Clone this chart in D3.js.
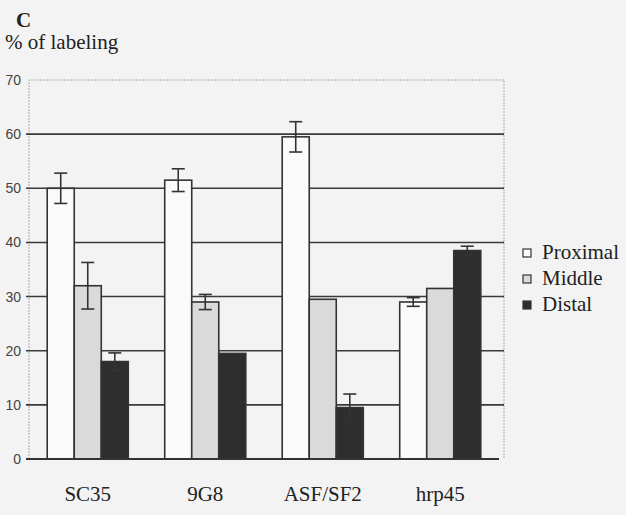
<!DOCTYPE html>
<html>
<head>
<meta charset="utf-8">
<script src="https://cdn.jsdelivr.net/npm/d3@7"></script>
<style>
  html, body { margin: 0; padding: 0; background: #f3f3f3; }
  svg { display: block; }
  .serif { font-family: "Liberation Serif", "DejaVu Serif", serif; }
  .sans { font-family: "Liberation Sans", Arial, sans-serif; }
</style>
</head>
<body>
<div id="chart"></div>
<script>
// categories and series
const categories = ["SC35", "9G8", "ASF/SF2", "hrp45"];
const seriesNames = ["Proximal", "Middle", "Distal"];
const proximal = [50, 51.5, 59.5, 29];
const middle   = [32, 29, 29.5, 31.5];
const distal   = [18, 19.5, 9.5, 38.5];
// error bar half-widths (null = no error bar)
const proximalErr = [2.8, 2.1, 2.8, 0.8];
const middleErr   = [4.3, 1.4, null, null];
const distalErr   = [1.6, null, 2.5, 0.8];
const yTicks = [0, 10, 20, 30, 40, 50, 60, 70];

const W = 626, H = 515;
const M = { left: 29, right: 499, top: 80, bottom: 459 };
const fills = ["#fafafa", "#dadada", "#2e2e2e"];
const ink = "#333";

const rows = categories.map((c, i) => ({
  cat: c,
  vals: [
    { s: 0, v: proximal[i], e: proximalErr[i] },
    { s: 1, v: middle[i],   e: middleErr[i] },
    { s: 2, v: distal[i],   e: distalErr[i] }
  ]
}));

const svg = d3.select("#chart").append("svg")
  .attr("width", W).attr("height", H);

const x0 = d3.scaleBand().domain(categories)
  .range([M.left, M.right]).paddingInner(0.31).paddingOuter(0.155);
const x1 = d3.scaleBand().domain([0, 1, 2]).range([0, x0.bandwidth()]);
const y = d3.scaleLinear().domain([0, 70]).range([M.bottom, M.top]);

// cornice leggera tratteggiata come nella scansione
svg.append("path")
  .attr("d", `M${M.left},${M.bottom}V${M.top}H${M.right + 5}V${M.bottom}`)
  .attr("fill", "none").attr("stroke", "#aaa")
  .attr("stroke-width", 1).attr("stroke-dasharray", "2,1");

// gridlines
svg.append("g").selectAll("line")
  .data(yTicks.filter(t => t > 0 && t < 70))
  .join("line")
  .attr("x1", M.left - 3).attr("x2", M.right + 5)
  .attr("y1", d => y(d)).attr("y2", d => y(d))
  .attr("stroke", "#3a3a3a").attr("stroke-width", 1.6);

// y tick labels
svg.append("g").selectAll("text")
  .data(yTicks)
  .join("text")
  .attr("class", "sans")
  .attr("x", M.left - 8).attr("y", d => y(d) + 5)
  .attr("text-anchor", "end")
  .attr("font-size", 14).attr("fill", "#444")
  .text(d => d);

// bars
const groups = svg.append("g").selectAll("g")
  .data(rows)
  .join("g")
  .attr("transform", d => `translate(${x0(d.cat)},0)`);

groups.selectAll("rect")
  .data(d => d.vals)
  .join("rect")
  .attr("x", d => x1(d.s))
  .attr("y", d => y(d.v))
  .attr("width", x1.bandwidth())
  .attr("height", d => y(0) - y(d.v))
  .attr("fill", d => fills[d.s])
  .attr("stroke", ink).attr("stroke-width", 1.6);

// error bars
const eb = groups.selectAll("g.err")
  .data(d => d.vals.filter(v => v.e != null))
  .join("g").attr("class", "err")
  .attr("stroke", ink).attr("stroke-width", 1.6);

const cx = d => x1(d.s) + x1.bandwidth() / 2;
eb.append("line")
  .attr("x1", cx).attr("x2", cx)
  .attr("y1", d => y(d.v + d.e)).attr("y2", d => y(d.v - d.e));
eb.append("line")
  .attr("x1", d => cx(d) - 6.5).attr("x2", d => cx(d) + 6.5)
  .attr("y1", d => y(d.v + d.e)).attr("y2", d => y(d.v + d.e));
eb.append("line")
  .attr("x1", d => cx(d) - 6.5).attr("x2", d => cx(d) + 6.5)
  .attr("y1", d => y(d.v - d.e)).attr("y2", d => y(d.v - d.e));

// baseline
svg.append("line")
  .attr("x1", M.left - 3).attr("x2", M.right)
  .attr("y1", y(0)).attr("y2", y(0))
  .attr("stroke", ink).attr("stroke-width", 1.8);

// category labels
svg.append("g").selectAll("text")
  .data(categories)
  .join("text")
  .attr("class", "serif")
  .attr("x", d => x0(d) + x0.bandwidth() / 2)
  .attr("y", 501)
  .attr("text-anchor", "middle")
  .attr("font-size", 21).attr("fill", "#222")
  .text(d => d);

// panel letter and y title
svg.append("text")
  .attr("class", "serif")
  .attr("x", 16).attr("y", 27)
  .attr("font-weight", "bold").attr("font-size", 21).attr("fill", "#222")
  .text("C");
svg.append("text")
  .attr("class", "serif")
  .attr("x", 5).attr("y", 49)
  .attr("font-size", 21).attr("fill", "#222")
  .text("% of labeling");

// legend
const leg = svg.append("g").selectAll("g")
  .data(seriesNames)
  .join("g")
  .attr("transform", (d, i) => `translate(523,${259 + i * 26})`);
leg.append("rect")
  .attr("x", 0).attr("y", -10).attr("width", 8).attr("height", 8)
  .attr("fill", (d, i) => fills[i])
  .attr("stroke", ink).attr("stroke-width", 1.2);
leg.append("text")
  .attr("class", "serif")
  .attr("x", 19).attr("y", 0)
  .attr("font-size", 21).attr("fill", "#222")
  .text(d => d);
</script>
</body>
</html>
